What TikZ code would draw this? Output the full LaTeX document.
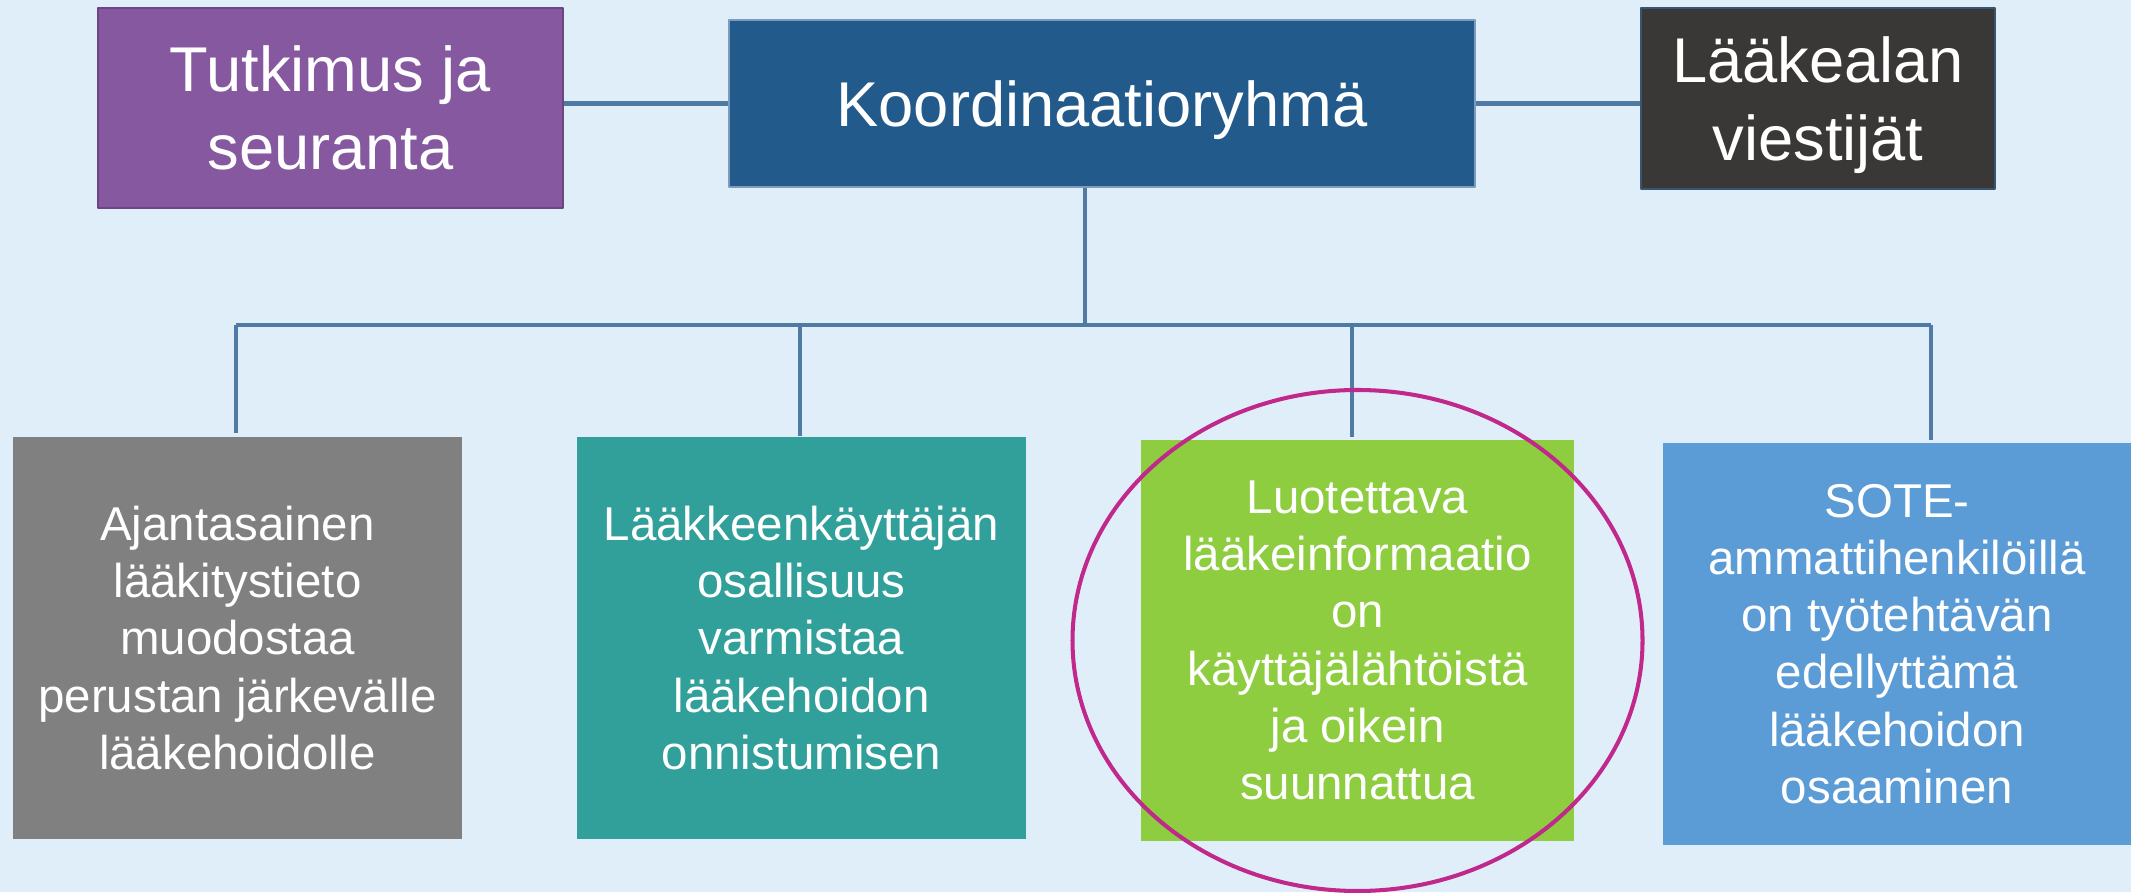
\documentclass[tikz,border=0pt]{standalone}
\usepackage{fontspec}
\setmainfont{Liberation Sans}
\definecolor{bgblue}{HTML}{E0EEF9}
\definecolor{linkblue}{HTML}{4F7AA3}
\definecolor{tutkpurple}{HTML}{8658A0}
\definecolor{koordblue}{HTML}{235A8C}
\definecolor{viestdark}{HTML}{3A3836}
\definecolor{goalgray}{HTML}{808080}
\definecolor{goalteal}{HTML}{31A09A}
\definecolor{goalgreen}{HTML}{8DCD3F}
\definecolor{goalblue}{HTML}{5B9BD6}
\definecolor{ringmagenta}{HTML}{C0288C}
\begin{document}
\begin{tikzpicture}[line join=round,
		box/.style={rectangle,inner sep=0pt,text=white,align=center},
		topbox/.style={box,line width=.6pt,font=\fontsize{18}{22.3}\selectfont},
		goalbox/.style={box,minimum width=4.49cm,minimum height=4.02cm,font=\fontsize{13.5}{16.3}\selectfont},
		link/.style={draw=linkblue,line width=1.4pt},
		drop/.style={draw=linkblue,line width=1.1pt}]
	\fill[bgblue] (0,0) rectangle (21.31,8.92);
	\useasboundingbox (0,0) rectangle (21.31,8.92);
	% ylarivi
	\node[topbox,fill=tutkpurple,draw=tutkpurple!80!black,minimum width=4.65cm,minimum height=2cm] (tutk) at (3.305,7.84) {Tutkimus ja\\seuranta};
	\node[topbox,fill=koordblue,draw=koordblue!60!white,minimum width=7.46cm,minimum height=1.67cm,text depth=0pt] (koord) at (11.02,7.885) {Koordinaatioryhmä};
	\node[topbox,fill=viestdark,draw=linkblue!70!black,minimum width=3.54cm,minimum height=1.81cm,text depth=0pt] (viest) at (18.18,7.935) {Lääkealan\\viestijät};
	% alarivi
	\node[goalbox,fill=goalgray] (tieto) at (2.375,2.54) {Ajantasainen\\lääkitystieto\\muodostaa\\perustan järkevälle\\lääkehoidolle};
	\node[goalbox,fill=goalteal] (osall) at (8.015,2.54) {Lääkkeenkäyttäjän\\osallisuus\\varmistaa\\lääkehoidon\\onnistumisen};
	\node[goalbox,fill=goalgreen,minimum width=4.33cm,minimum height=4.01cm] (info) at (13.575,2.515) {Luotettava\\lääkeinformaatio\\on\\käyttäjälähtöistä\\ja oikein\\suunnattua};
	\node[goalbox,fill=goalblue,minimum width=4.68cm] (sote) at (18.97,2.48) {SOTE-\\ammattihenkilöillä\\on työtehtävän\\edellyttämä\\lääkehoidon\\osaaminen};
	% yhteydet
	\path (2.36,5.67) coordinate (b1)
		(8.00,5.67) coordinate (b2)
		(10.85,5.67) coordinate (bk)
		(13.52,5.67) coordinate (b3)
		(19.31,5.67) coordinate (b4);
	\draw[link] (koord.west) -- (koord.west -| tutk.east);
	\draw[link] (koord.east) -- (koord.east -| viest.west);
	\draw[drop] (bk |- koord.south) -- (bk);
	\draw[link] (b1) -- (b4);
	\draw[drop] (b1) -- ([yshift=.03cm]b1 |- tieto.north);
	\draw[drop] (b2) -- (b2 |- osall.north);
	\draw[drop] (b3) -- ([yshift=.02cm]b3 |- info.north);
	\draw[drop] (b4) -- ([yshift=.02cm]b4 |- sote.north);
	\draw[ringmagenta,line width=1.15pt] (info.center) ellipse [x radius=2.85cm,y radius=2.505cm];
\end{tikzpicture}
\end{document}
